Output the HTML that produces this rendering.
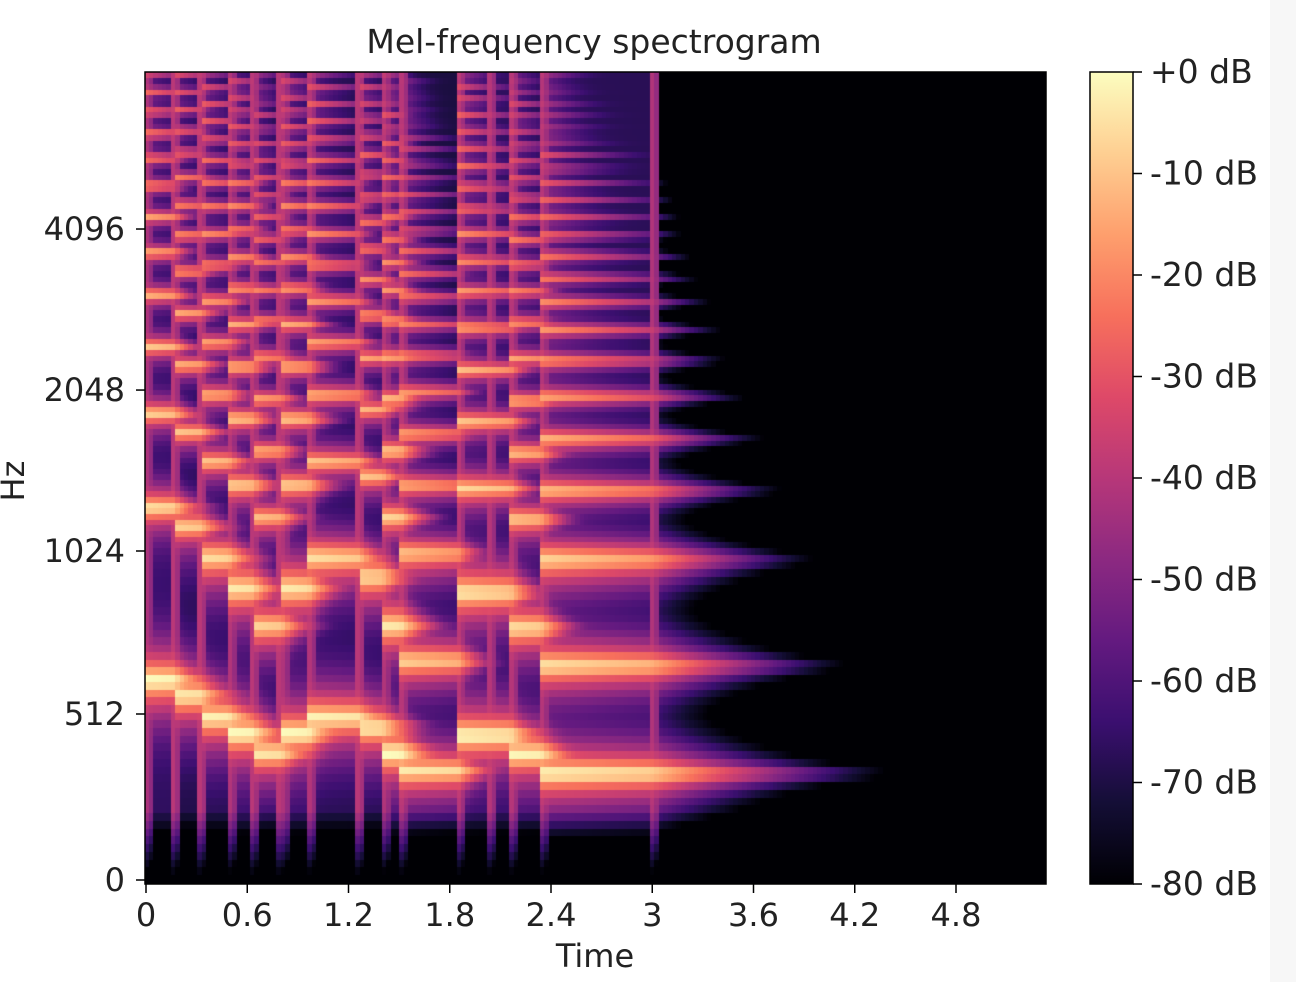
<!DOCTYPE html>
<html>
<head>
<meta charset="utf-8">
<style>
  html,body{margin:0;padding:0;background:#fff;}
  #wrap{position:relative;width:1296px;height:982px;overflow:hidden;background:#fff;font-family:"DejaVu Sans","Liberation Sans",sans-serif;}
  #spec{position:absolute;left:145px;top:72px;}
  #axes{position:absolute;left:0;top:0;}
  #rightstrip{position:absolute;left:1270px;top:0;width:26px;height:982px;background:#f7f7f7;}
</style>
</head>
<body>
<div id="wrap">
  <div id="rightstrip"></div>
  <canvas id="spec" width="901" height="812"></canvas>
  <svg id="axes" width="1296" height="982">
    <defs>
      <linearGradient id="magma" x1="0" y1="1" x2="0" y2="0">
        <stop offset="0" stop-color="#000004"/>
        <stop offset="0.1" stop-color="#140e36"/>
        <stop offset="0.2" stop-color="#3b0f70"/>
        <stop offset="0.3" stop-color="#641a80"/>
        <stop offset="0.4" stop-color="#8c2981"/>
        <stop offset="0.5" stop-color="#b73779"/>
        <stop offset="0.6" stop-color="#de4968"/>
        <stop offset="0.7" stop-color="#f7705c"/>
        <stop offset="0.8" stop-color="#fe9f6d"/>
        <stop offset="0.9" stop-color="#fecf92"/>
        <stop offset="1" stop-color="#fcfdbf"/>
      </linearGradient>
    </defs>
    <text x="594" y="53" font-size="33" text-anchor="middle" fill="#222">Mel-frequency spectrogram</text>
    <rect x="145" y="72" width="901" height="812" fill="none" stroke="#000" stroke-width="1.5"/>
    <g id="xticks"></g>
    <g id="yticks"></g>
    <text x="595" y="967" font-size="32" text-anchor="middle" fill="#222">Time</text>
    <text x="24" y="481" font-size="32" text-anchor="middle" fill="#222" transform="rotate(-90 24 481)">Hz</text>
    <rect x="1090" y="72" width="43" height="812" fill="url(#magma)" stroke="#000" stroke-width="1.5"/>
    <g id="cbticks"></g>
  </svg>
</div>
<script>
// ---- data ----
const noteStarts = [0.00, 0.17, 0.33, 0.50, 0.64, 0.81, 0.97, 1.27, 1.41, 1.52, 1.86, 2.17, 2.35];
const noteEnds   = [0.17, 0.33, 0.50, 0.64, 0.81, 0.97, 1.27, 1.41, 1.52, 1.86, 2.17, 2.35, 3.00];
const noteF0     = [619, 571, 503, 454, 395, 454, 503, 472, 395, 340, 448, 392, 333];
const noteLevel  = [0, -3, -2, 0, -4, 0, -2, -3, 0, -4, 0, -2, -1];
const onsetTimes = [0.00, 0.17, 0.33, 0.50, 0.64, 0.81, 0.97, 1.27, 1.41, 1.52, 1.86, 2.04, 2.17, 2.35, 3.00];
const xTickValues = [0, 0.6, 1.2, 1.8, 2.4, 3, 3.6, 4.2, 4.8];
const xTickLabels = ["0", "0.6", "1.2", "1.8", "2.4", "3", "3.6", "4.2", "4.8"];
const yTickValues = [0, 512, 1024, 2048, 4096];
const yTickLabels = ["0", "512", "1024", "2048", "4096"];
const cbTickValues = [0, -10, -20, -30, -40, -50, -60, -70, -80];
const cbTickLabels = ["+0 dB", "-10 dB", "-20 dB", "-30 dB", "-40 dB", "-50 dB", "-60 dB", "-70 dB", "-80 dB"];

// ---- scales ----
const PX0 = 145, PY0 = 72, PW = 901, PH = 812;
const DUR = PW / 168.75;
function xOf(t){ return PX0 + t * 168.75; }
const LOGSTEP = Math.log(6.4) / 27;
function hzToMel(f){ return f < 1000 ? f / (200/3) : 15 + Math.log(f/1000) / LOGSTEP; }
function melToHz(m){ return m < 15 ? m * (200/3) : 1000 * Math.exp((m - 15) * LOGSTEP); }
const melKnots = [[0,882],[7.68,714],[15.345,551],[25.43,390],[35.51,229]];
function yOfMel(m){
  for (let i = 0; i < melKnots.length - 1; i++){
    const a = melKnots[i], b = melKnots[i+1];
    if (m <= b[0] || i === melKnots.length - 2){
      return a[1] + (m - a[0]) * (b[1] - a[1]) / (b[0] - a[0]);
    }
  }
}
function yOfHz(f){ return yOfMel(hzToMel(f)); }
const cbY = v => 72 + (-v) / 80 * 812;

// ---- colormap ----
const magma = [[0,0,4],[20,14,54],[59,15,112],[100,26,128],[140,41,129],[183,55,121],[222,73,104],[247,112,92],[254,159,109],[254,207,146],[252,253,191]];
function cmap(v){
  v = Math.max(0, Math.min(1, v)) * 10;
  const i = Math.min(9, Math.floor(v)), f = v - i;
  const a = magma[i], b = magma[i+1];
  return `rgb(${Math.round(a[0]+(b[0]-a[0])*f)},${Math.round(a[1]+(b[1]-a[1])*f)},${Math.round(a[2]+(b[2]-a[2])*f)})`;
}

// ---- spectrogram model built from the note arrays ----
const NF = 205, NB = 128;
const melTop = (yOfMel(35.51) - PY0) / 15.97 + 35.51;
const dt = DUR / NF;
const grid = [];
let pmax = 0;
for (let i = 0; i < NF; i++){
  const t = (i + 0.5) * dt;
  const col = [];
  for (let b = 0; b < NB; b++){
    const m = (b + 0.5) * melTop / NB;
    const f = melToHz(m);
    let P = 1e-10;
    for (let n = 0; n < noteF0.length; n++){
      const s = noteStarts[n], e = noteEnds[n], f0 = noteF0[n];
      if (t < s) continue;
      const last = n === noteF0.length - 1;
      for (let h = 1; h * f0 < 8600; h++){
        const hf = h * f0;
        const within = 4 + (last ? 3.5 : 5) * h;
        let A = noteLevel[n] - 3 * Math.log2(h) - 1.15 * h;
        if (t <= e) A -= within * (t - s);
        else {
          const rel = last ? 45 + 7 * h : 160 + 10 * h;
          A -= within * (e - s) + rel * (t - e);
        }
        if (A < -110) continue;
        const sig = 15 + 0.008 * hf;
        const d = (f - hf) / sig;
        const sh = 1 / (1 + d * d);
        P += Math.pow(10, A / 10) * sh * sh * sh;
      }
      if (t <= e) P += Math.pow(10, (-69 + noteLevel[n]) / 10);
    }
    for (let k = 0; k < onsetTimes.length; k++){
      const dd = t - onsetTimes[k];
      if (dd > -dt * 0.6 && dd < dt * 1.6) P += Math.pow(10, -4.2 - Math.max(0, dd) * 20);
    }
    if (f < 220) P *= Math.pow(10, -((220 - f) / 220) * 4.5);
    col.push(P);
    if (P > pmax) pmax = P;
  }
  grid.push(col);
}
const cv = document.getElementById('spec');
const ctx = cv.getContext('2d');
ctx.fillStyle = '#000004';
ctx.fillRect(0, 0, PW, PH);
for (let i = 0; i < NF; i++){
  const x0 = xOf(i * dt) - PX0, x1 = xOf((i + 1) * dt) - PX0;
  for (let b = 0; b < NB; b++){
    const m0 = b * melTop / NB, m1 = (b + 1) * melTop / NB;
    const y0 = yOfMel(m1) - PY0, y1 = yOfMel(m0) - PY0;
    let db = 10 * Math.log10(grid[i][b] / pmax);
    if (db < -80) db = -80;
    ctx.fillStyle = cmap((db + 80) / 80);
    ctx.fillRect(Math.floor(x0), Math.floor(y0), Math.ceil(x1 - x0) + 1, Math.ceil(y1 - y0) + 1);
  }
}

// ---- axes ----
const NS = 'http://www.w3.org/2000/svg';
function mk(tag, attrs, parent){
  const el = document.createElementNS(NS, tag);
  for (const k in attrs) el.setAttribute(k, attrs[k]);
  parent.appendChild(el);
  return el;
}
const gx = document.getElementById('xticks');
xTickValues.forEach((v, i) => {
  const x = xOf(v) + 1;
  const ln = mk('line', {x1: x, y1: 884, x2: x, y2: 893, stroke: '#000', 'stroke-width': 1.5}, gx);
  
  
  const tx = mk('text', {x: x, y: 926, 'font-size': 32, 'text-anchor': 'middle', fill: '#222'}, gx);
  tx.textContent = xTickLabels[i];
  
  
});
const gy = document.getElementById('yticks');
yTickValues.forEach((v, i) => {
  const y = v === 0 ? 880 : yOfHz(v);
  const ln = mk('line', {x1: 136, y1: y, x2: 145, y2: y, stroke: '#000', 'stroke-width': 1.5}, gy);
  
  
  const tx = mk('text', {x: 125, y: y + 11, 'font-size': 32, 'text-anchor': 'end', fill: '#222'}, gy);
  tx.textContent = yTickLabels[i];
  
  
});
const gc = document.getElementById('cbticks');
cbTickValues.forEach((v, i) => {
  const y = cbY(v);
  const ln = mk('line', {x1: 1133, y1: y, x2: 1142, y2: y, stroke: '#000', 'stroke-width': 1.5}, gc);
  
  
  const tx = mk('text', {x: 1150, y: y + 11, 'font-size': 33, 'text-anchor': 'start', fill: '#222'}, gc);
  tx.textContent = cbTickLabels[i];
  
  
});
</script>
</body>
</html>
